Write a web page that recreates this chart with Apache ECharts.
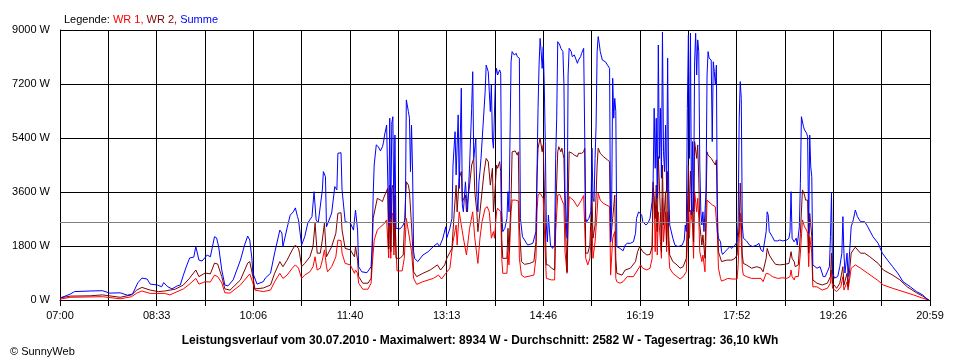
<!DOCTYPE html>
<html><head><meta charset="utf-8">
<script src="https://cdn.jsdelivr.net/npm/echarts/dist/echarts.min.js"></script>
<style>html,body{margin:0;padding:0;background:#fff}#c{width:960px;height:360px}</style>
</head><body><div id="c"></div>
<script>
// x tick labels (every second grid line)
const tickLabels = ['07:00','08:33','10:06','11:40','13:13','14:46','16:19','17:52','19:26','20:59'];
const dayMinutes = 839; // 07:00 .. 20:59
const average = 2582;
const footerText = 'Leistungsverlauf vom 30.07.2010 - Maximalwert: 8934 W - Durchschnitt: 2582 W - Tagesertrag: 36,10 kWh';

// [minutes since 07:00, watts]
const summe = [[1,80],[5,130],[10,200],[14,280],[29,300],[41,310],[48,230],[58,240],[65,160],[70,200],[75,570],[79,730],[84,700],[87,530],[94,500],[98,440],[100,580],[104,440],[108,370],[113,470],[116,500],[119,830],[122,1130],[125,1400],[129,1430],[131,1780],[134,1330],[137,1300],[142,1500],[145,1440],[149,2110],[151,2070],[153,1780],[156,1000],[159,500],[162,470],[167,670],[174,1330],[178,1830],[181,2130],[183,2000],[185,1400],[186,900],[190,530],[196,610],[198,730],[203,890],[207,1570],[212,2330],[214,2230],[215,1780],[219,2400],[222,2830],[225,2940],[227,3070],[229,2780],[230,2670],[233,1830],[236,2110],[239,2570],[243,2780],[245,3610],[247,2670],[249,2570],[253,3670],[254,4280],[256,4110],[257,2440],[258,2500],[262,2900],[265,3780],[267,3670],[268,4890],[271,4910],[272,3670],[275,2610],[280,2570],[283,2330],[285,3000],[287,2330],[288,1110],[291,940],[296,910],[300,1110],[301,1780],[302,3500],[303,4500],[305,5170],[307,5110],[309,4970],[311,5110],[312,5260],[313,5500],[315,5830],[316,5890],[317,2500],[318,6060],[319,2700],[320,5900],[321,6110],[322,2600],[323,5500],[324,2390],[328,2370],[331,2500],[333,2730],[334,6670],[335,6610],[336,6280],[337,6060],[338,4280],[339,5830],[340,4330],[341,1610],[342,1390],[345,1280],[350,1500],[355,1610],[360,1780],[364,1890],[366,1780],[369,2030],[372,2440],[373,2070],[376,2390],[378,2720],[379,4500],[381,5610],[382,4170],[383,5170],[384,6170],[385,3720],[387,7060],[388,3170],[389,2940],[391,3940],[392,3390],[393,2940],[395,4500],[397,6390],[398,7610],[399,4720],[401,5390],[402,3500],[403,2940],[404,3940],[405,4280],[406,4720],[408,5830],[410,6940],[411,7830],[412,7780],[413,7610],[414,6940],[415,6280],[416,7170],[417,5390],[418,5060],[420,7500],[421,7720],[422,7500],[424,7670],[425,7560],[426,2940],[427,2280],[429,2390],[431,2720],[432,3610],[433,2940],[435,7940],[436,8280],[438,8170],[440,8220],[441,8110],[443,8060],[444,2720],[446,2110],[448,2000],[451,1830],[456,1890],[459,2280],[460,4170],[461,6390],[462,7830],[463,8720],[464,8280],[465,7720],[466,8440],[467,7170],[468,5280],[469,2500],[470,1940],[471,2830],[473,1830],[475,1720],[477,1830],[478,4720],[479,6060],[480,8610],[482,8500],[483,8390],[484,8330],[485,8280],[486,7170],[487,3610],[489,2060],[490,7500],[491,8390],[493,8280],[494,8110],[496,8170],[499,7890],[500,8000],[502,8110],[503,8220],[505,8390],[506,8390],[507,2720],[508,2610],[510,2720],[512,2940],[513,5060],[514,3390],[515,3280],[516,4720],[517,5830],[518,8280],[519,8780],[520,8560],[521,8280],[523,8000],[526,7940],[528,7830],[530,7720],[531,1940],[532,3170],[533,7390],[534,6060],[535,6720],[536,6280],[537,1780],[540,1720],[543,1640],[545,1830],[547,1890],[550,1890],[553,1940],[555,2220],[556,2720],[558,2940],[561,2830],[562,2610],[565,2500],[567,2560],[569,2720],[571,3280],[572,3940],[573,6390],[574,4390],[575,6060],[576,3390],[577,8500],[578,4720],[579,6390],[580,4060],[581,8934],[582,4940],[583,4280],[584,5830],[585,3610],[586,8060],[587,3720],[588,2500],[591,2060],[593,1830],[596,1780],[600,1830],[602,2000],[603,2500],[604,2280],[605,6390],[606,8830],[607,4720],[608,8900],[609,2830],[610,5280],[611,2940],[612,7940],[613,8890],[614,7500],[615,8670],[616,8280],[617,4500],[618,2940],[619,2500],[620,2940],[621,2280],[623,3610],[624,7500],[625,8280],[626,8060],[628,8000],[629,5280],[630,7940],[631,7610],[632,7170],[633,7830],[634,2280],[635,2060],[637,1940],[638,1610],[639,1520],[643,1670],[646,1780],[648,1720],[651,1830],[653,1940],[654,2610],[655,6060],[656,7280],[657,6720],[658,2500],[659,2060],[662,1970],[665,1830],[668,1780],[672,1830],[674,1890],[676,1670],[678,1610],[681,2280],[682,2940],[683,2830],[684,2280],[687,2110],[689,1970],[692,1970],[694,2000],[697,1970],[701,2000],[703,2060],[704,2280],[705,3610],[706,2060],[708,1940],[709,1890],[710,2060],[711,1830],[713,2440],[714,3890],[715,6110],[716,6060],[717,5780],[718,5670],[719,5720],[720,5560],[721,5440],[722,2220],[723,5500],[724,4440],[725,4110],[726,1170],[730,1060],[733,1110],[736,780],[738,780],[740,940],[742,1110],[743,2110],[744,3560],[745,900],[747,730],[750,780],[752,1110],[754,1560],[755,2780],[756,1560],[757,900],[759,1560],[760,780],[761,1330],[763,2440],[765,2670],[767,3000],[769,2780],[772,2610],[776,2610],[779,2440],[784,2110],[789,1890],[793,1560],[798,1330],[803,1110],[808,890],[813,610],[820,440],[826,280],[832,170],[836,20],[838,0]];

const wr2 = [[0,70],[10,130],[29,140],[41,170],[58,90],[69,170],[74,330],[79,420],[87,330],[95,280],[101,300],[111,360],[119,500],[125,730],[131,1000],[134,780],[140,900],[145,870],[149,1230],[152,1200],[156,780],[159,370],[164,330],[174,670],[181,1230],[183,1280],[186,780],[188,370],[196,400],[203,500],[207,890],[212,1280],[215,1110],[219,1330],[224,1670],[227,1830],[230,1720],[231,1560],[233,1110],[236,1220],[241,1440],[244,1780],[246,2560],[248,1560],[251,1560],[253,2000],[255,2560],[257,1440],[258,1390],[262,1780],[266,2220],[268,2890],[271,2910],[272,2330],[275,1720],[280,1670],[284,1440],[285,1780],[287,1330],[288,780],[292,560],[297,560],[300,720],[301,1560],[302,2720],[306,3390],[309,3330],[311,3280],[312,3390],[314,3560],[316,3720],[317,1700],[318,3830],[319,1610],[320,3700],[321,3830],[322,1800],[323,3500],[324,1390],[328,1390],[331,1500],[333,3170],[334,3940],[336,3830],[337,3610],[339,2500],[340,1830],[341,940],[344,780],[350,890],[357,1000],[364,1170],[367,1000],[371,1170],[373,1390],[378,1720],[380,2830],[382,3830],[383,2940],[385,4060],[387,4280],[388,3280],[391,3500],[392,2940],[395,3830],[397,4500],[399,4720],[400,3610],[402,2940],[403,2280],[405,2940],[407,3610],[409,4280],[411,4720],[413,4610],[415,3830],[417,4390],[418,2940],[419,3390],[421,4500],[422,4390],[424,4610],[425,4280],[426,2060],[427,1390],[431,1390],[432,2390],[433,1610],[435,3390],[436,4940],[439,4970],[441,4830],[442,4940],[443,2500],[445,1280],[448,1190],[453,1220],[457,1280],[459,1940],[460,4060],[461,5060],[463,5390],[465,4940],[466,5170],[467,3830],[468,2500],[469,1170],[471,1170],[474,1060],[477,1000],[478,2940],[480,4940],[481,5110],[483,4940],[484,5060],[486,4720],[487,2940],[489,940],[490,3060],[491,4940],[494,4890],[496,4830],[499,4780],[500,4890],[503,4890],[505,4940],[506,5060],[507,1560],[509,1560],[511,1830],[513,3610],[514,2060],[516,2500],[518,4500],[519,5060],[521,4890],[524,4780],[528,4670],[530,4610],[531,1940],[533,2720],[535,3500],[536,1390],[537,890],[542,830],[545,1000],[550,1060],[555,1280],[557,1610],[559,1780],[562,1610],[566,1500],[569,1520],[571,1780],[572,3940],[574,2720],[575,3830],[576,2280],[577,4780],[579,2940],[580,1610],[581,4500],[582,2500],[584,3610],[585,1830],[586,4280],[587,2170],[588,1500],[591,1280],[595,1170],[598,1060],[601,1110],[604,1390],[605,2830],[606,4500],[607,2940],[608,4300],[610,2940],[611,1940],[612,5280],[614,4720],[615,5170],[616,4060],[617,2500],[619,1830],[620,2170],[622,1390],[624,4940],[625,4830],[628,4720],[630,4610],[632,4500],[633,4670],[634,2940],[635,1610],[636,1500],[638,1280],[639,1220],[643,1330],[648,1330],[651,1390],[653,1500],[654,2060],[655,2500],[656,3900],[658,1500],[659,1220],[662,1170],[667,1060],[672,1110],[676,1060],[678,940],[681,1390],[682,1720],[684,1500],[687,1330],[690,1190],[694,1170],[699,1190],[703,1220],[705,1610],[706,1390],[708,1280],[709,1110],[712,1170],[714,2220],[716,3670],[718,3500],[719,3330],[721,3330],[722,1560],[723,2890],[725,2110],[726,670],[730,560],[735,500],[740,560],[743,780],[744,1560],[745,560],[749,390],[752,560],[755,1110],[756,500],[759,890],[760,440],[763,1560],[765,1670],[767,1760],[772,1560],[776,1560],[781,1440],[789,1220],[794,1000],[803,830],[810,670],[817,440],[826,240],[832,130],[838,0]];

const wr1 = [[0,30],[10,90],[41,110],[58,40],[69,110],[74,230],[79,300],[87,220],[101,220],[106,170],[119,370],[125,530],[131,720],[134,530],[140,610],[145,600],[149,830],[152,780],[156,570],[159,240],[164,230],[174,500],[183,870],[186,570],[188,330],[196,280],[203,330],[207,610],[212,890],[215,720],[219,830],[224,1060],[227,1170],[230,1060],[233,720],[236,830],[241,940],[244,1110],[246,1440],[248,1000],[251,1060],[253,1330],[255,1670],[257,1110],[258,940],[262,1110],[266,1440],[268,2000],[271,1980],[272,1560],[275,1220],[280,1170],[284,890],[285,1000],[287,890],[288,560],[292,360],[297,360],[300,560],[301,1110],[303,2000],[306,2330],[309,2440],[312,2520],[315,2670],[316,2720],[317,1400],[318,2940],[319,1390],[320,2800],[321,2900],[322,1500],[323,2600],[325,970],[330,970],[332,1390],[334,2720],[335,2500],[337,2070],[339,1610],[341,720],[344,520],[350,610],[360,720],[365,830],[368,700],[372,890],[376,1060],[379,1940],[382,2500],[383,1830],[385,2940],[387,2500],[389,2070],[392,1500],[395,2390],[398,2940],[400,2070],[402,1500],[403,1220],[405,2060],[407,2610],[410,3060],[412,3110],[414,2940],[416,2060],[418,2280],[419,2060],[421,2940],[422,3060],[425,2940],[426,1390],[427,890],[431,890],[432,1610],[433,1170],[435,2940],[436,3330],[439,3330],[442,3300],[443,1390],[445,830],[448,760],[457,830],[459,1390],[460,2940],[461,3500],[463,3560],[466,3390],[467,2500],[468,1500],[469,720],[474,670],[477,670],[478,2280],[480,3500],[482,3520],[484,3330],[486,3170],[487,1610],[489,890],[490,2500],[491,3440],[495,3330],[499,3110],[502,3280],[505,3480],[506,3520],[507,1390],[509,1170],[511,1390],[513,2500],[514,1390],[516,1940],[518,2940],[519,3560],[521,3330],[524,3220],[530,3110],[531,830],[533,2060],[535,2280],[536,720],[537,610],[540,560],[543,610],[547,780],[553,780],[557,1000],[560,1170],[562,1060],[566,1000],[569,1060],[571,1390],[572,3700],[573,3400],[574,1610],[575,3170],[576,1500],[577,2940],[579,1940],[580,1390],[581,3390],[582,1940],[584,2940],[585,1610],[586,2940],[587,1610],[588,1060],[591,890],[595,780],[598,700],[601,780],[604,940],[605,1940],[606,3610],[607,2060],[608,3000],[610,2500],[611,1390],[612,3610],[614,2940],[615,3390],[616,2720],[617,1610],[619,1280],[620,1500],[622,940],[624,3330],[625,3280],[629,3170],[632,3110],[633,3170],[634,2170],[635,1060],[637,720],[638,630],[641,670],[644,720],[648,700],[653,700],[654,1170],[655,2060],[656,2900],[658,1060],[659,830],[662,780],[667,720],[672,720],[676,720],[678,610],[681,890],[682,940],[684,860],[687,780],[692,720],[697,740],[701,720],[704,780],[705,1000],[706,780],[708,670],[709,780],[712,780],[714,1560],[716,2670],[718,2440],[720,2330],[721,2220],[722,1110],[723,2110],[725,1560],[726,440],[730,440],[735,330],[740,390],[743,560],[744,1000],[745,390],[749,280],[753,440],[755,780],[756,330],[759,610],[760,330],[763,1060],[767,1170],[772,1060],[779,890],[788,670],[794,500],[803,390],[813,280],[823,170],[832,60],[838,0]];

// category ticks: one grid line between each labelled tick
const gridCats = [];
tickLabels.forEach((t, i) => { gridCats.push(t); if (i < tickLabels.length - 1) gridCats.push(''); });

const FONT = '"Liberation Sans", Arial, sans-serif';
const chart = echarts.init(document.getElementById('c'), null, {renderer: 'canvas'});
function lineSeries(name, data, color, extra) {
  return Object.assign({
    name, type: 'line', data, xAxisIndex: 0, yAxisIndex: 0,
    symbol: 'none', showSymbol: false, smooth: false,
    lineStyle: {width: 1, color}, itemStyle: {color},
    emphasis: {disabled: true}, silent: true
  }, extra || {});
}
const rs = (color) => ({color, fontSize: 11, fontWeight: 'normal', fontFamily: FONT});
chart.setOption({
  animation: false,
  backgroundColor: '#ffffff',
  textStyle: {fontFamily: FONT},
  title: [
    {text: '{k|Legende: }{a|WR 1, }{b|WR 2, }{c|Summe}', left: 59, top: 9,
     textStyle: {fontWeight: 'normal', fontSize: 11, rich: {k: rs('#000000'), a: rs('#ff0000'), b: rs('#800000'), c: rs('#0000ff')}}},
    {text: footerText, left: 'center', top: 330,
     textStyle: {color: '#000', fontSize: 12, fontWeight: 'bold', fontFamily: FONT}},
    {text: '© SunnyWeb', left: 5, top: 341,
     textStyle: {color: '#000', fontSize: 11, fontWeight: 'normal', fontFamily: FONT}}
  ],
  grid: {left: 60, right: 30, top: 30, bottom: 60, containLabel: false, outerBoundsMode: 'none'},
  xAxis: [
    {type: 'value', min: 0, max: dayMinutes, show: false},
    {type: 'category', data: gridCats, boundaryGap: false, position: 'bottom',
     axisLine: {show: true, lineStyle: {color: '#000', width: 1}},
     axisTick: {show: true, interval: 0, length: 6, lineStyle: {color: '#000'}},
     axisLabel: {interval: 0, color: '#000', fontSize: 11, margin: 10, fontFamily: FONT},
     splitLine: {show: true, interval: 0, lineStyle: {color: '#000', width: 1}}}
  ],
  yAxis: {type: 'value', min: 0, max: 9000, interval: 1800,
    axisLine: {show: true, lineStyle: {color: '#000', width: 1}},
    axisTick: {show: false},
    axisLabel: {formatter: (v) => v + ' W', color: '#000', fontSize: 11, margin: 10, fontFamily: FONT},
    splitLine: {show: true, lineStyle: {color: '#000', width: 1}}},
  series: [
    lineSeries('WR 1', wr1, '#ff0000', {markLine: {silent: true, symbol: 'none', animation: false,
      label: {show: false}, lineStyle: {color: '#808080', type: 'solid', width: 1},
      data: [{yAxis: average}]}}),
    lineSeries('WR 2', wr2, '#800000'),
    lineSeries('Summe', summe, '#0000ff')
  ]
});
</script></body></html>
